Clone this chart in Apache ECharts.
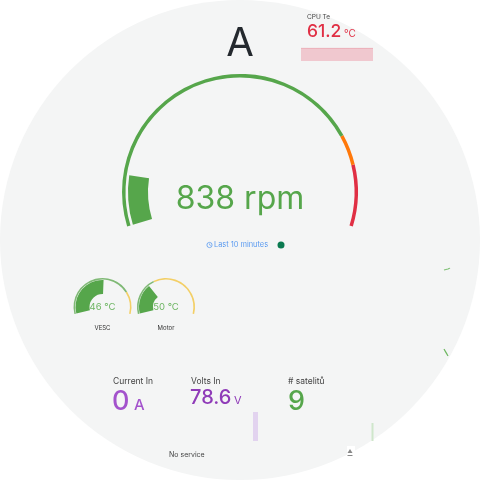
<!DOCTYPE html>
<html>
<head>
<meta charset="utf-8">
<style>
  html, body { margin: 0; padding: 0; background: #fff; }
  #main { width: 480px; height: 480px; }
</style>
<script src="https://cdn.jsdelivr.net/npm/echarts@6/dist/echarts.min.js"></script>
</head>
<body>
<div id="main"></div>
<script>
const GREEN = "#56a64b"
const RED = "#e02f44"
const PURPLE = "#a352cc"

const rpmValue = 838
const rpmMax = 7000
const rpmThresholds = [5500, 6000, 7000]
const rpmThresholdColors = [GREEN, "#ff780a", RED]

const tempNames = ["VESC", "Motor"]
const tempValues = [46, 50]
const tempMax = [90, 160]
const tempThresholds = [70, 60]

const cpuTemp = [61.4, 61.3, 61.2, 61.3, 61.1, 61.2, 61.2, 61.0, 61.1, 61.2, 61.0, 61.1, 61.2]
const voltsIn = [78.6]
const satellites = [9]
const strayUpper = [1, 2, 2, 3]
const strayLower = [3, 2, 1, 0]

const arcStops = (values, max, colors) =>
  values.map((v, i) => [v / max, colors[i]])

const rpmGauge = {
  type: "gauge",
  center: [240, 192],
  startAngle: 197,
  endAngle: -17,
  min: 0,
  max: rpmMax,
  pointer: { show: false },
  axisTick: { show: false },
  splitLine: { show: false },
  axisLabel: { show: false },
}

const smallGauge = (i, cx) => {
  const base = {
    type: "gauge",
    center: [cx, 307],
    startAngle: 194,
    endAngle: -14,
    min: 0,
    max: tempMax[i],
    pointer: { show: false },
    axisTick: { show: false },
    splitLine: { show: false },
    axisLabel: { show: false },
    silent: true,
  }
  return [
    {
      ...base,
      radius: 29,
      axisLine: {
        lineStyle: {
          width: 1.6,
          color: arcStops(
            [tempThresholds[i], tempMax[i]],
            tempMax[i],
            ["#7fb975", "#f3cf66"]
          ),
        },
      },
      title: { show: false },
      detail: { show: false },
      data: [{ value: tempValues[i] }],
    },
    {
      ...base,
      radius: 27,
      axisLine: { show: false },
      progress: { show: true, width: 14, itemStyle: { color: GREEN } },
      title: {
        show: true,
        offsetCenter: [0, 21],
        fontSize: 6,
        color: "#333",
        fontFamily: "Inter",
      },
      detail: {
        show: true,
        offsetCenter: [0, 0],
        formatter: (v) => v + " °C",
        fontSize: 9.5,
        fontWeight: 400,
        color: "#6db562",
        fontFamily: "Inter",
      },
      data: [{ value: tempValues[i], name: tempNames[i] }],
    },
  ]
}

const txt = (x, y, text, fontSize, fill, extra) => ({
  type: "text",
  x,
  y,
  style: { text, fontSize, fill, fontFamily: "Inter", textVerticalAlign: "middle", ...extra },
})

const spark = (left, top, width, height) => ({ left, top, width, height, show: false })

const hiddenCat = (gridIndex, data) => ({
  type: "category",
  gridIndex,
  show: false,
  boundaryGap: false,
  data,
})

const hiddenVal = (gridIndex, min, max) => ({ type: "value", gridIndex, show: false, min, max })

const chart = echarts.init(document.getElementById("main"), null, { renderer: "canvas" })

chart.setOption({
  animation: false,
  backgroundColor: "#fff",
  graphic: [
    { type: "circle", z: -1, shape: { cx: 240, cy: 240, r: 240 }, style: { fill: "#f4f5f5" } },
    txt(240, 44, "A", 40, "#24292e", { textAlign: "center" }),
    txt(307, 17, "CPU Te", 6.5, "#444"),
    txt(307, 32, "61.2", 17.5, RED, { fontWeight: 500 }),
    txt(344, 34, "°C", 10, RED),
    txt(214, 245, "Last 10 minutes", 7.4, "#5b9bf0"),
    { type: "circle", shape: { cx: 209.5, cy: 245, r: 2.6 }, style: { fill: "none", stroke: "#5b9bf0", lineWidth: 0.8 } },
    { type: "polyline", shape: { points: [[209.5, 243.5], [209.5, 245], [211, 245.5]] }, style: { fill: "none", stroke: "#5b9bf0", lineWidth: 0.6 } },
    { type: "circle", shape: { cx: 281, cy: 245, r: 3.5 }, style: { fill: "#0a7a50" } },
    txt(113, 381, "Current In", 8.5, "#444"),
    txt(112, 402, "0", 27, PURPLE, { fontWeight: 500 }),
    txt(134, 405, "A", 15, PURPLE, { fontWeight: 500 }),
    txt(191, 381, "Volts In", 8.5, "#444"),
    txt(190, 398, voltsIn[0].toFixed(1), 20, "#8f3bb8", { fontWeight: 500 }),
    txt(234, 401, "V", 11, "#8f3bb8"),
    txt(288, 381, "# satelitů", 8.5, "#444"),
    txt(288, 402, String(satellites[0]), 27, GREEN, { fontWeight: 500 }),
    txt(169, 455, "No service", 7, "#444"),
    { type: "rect", shape: { x: 347, y: 446, width: 8, height: 12 }, style: { fill: "#fff" } },
    { type: "polygon", shape: { points: [[347.5, 453], [352.5, 453], [350, 449]] }, style: { fill: "#888" } },
    { type: "rect", shape: { x: 347.5, y: 455, width: 5, height: 1 }, style: { fill: "#888" } },
  ],
  grid: [
    spark(301, 48, 72, 13),
    spark(253, 412, 5, 29),
    spark(371.5, 423, 2, 18),
    spark(444, 268, 6, 3),
    spark(444, 349, 4, 7),
  ],
  xAxis: [
    hiddenCat(0, cpuTemp.map((_, i) => i)),
    { type: "category", gridIndex: 1, show: false, data: [0] },
    { type: "category", gridIndex: 2, show: false, data: [0] },
    hiddenCat(3, strayUpper.map((_, i) => i)),
    hiddenCat(4, strayLower.map((_, i) => i)),
  ],
  yAxis: [
    hiddenVal(0, 0, 61.5),
    hiddenVal(1, 0, 78.6),
    hiddenVal(2, 0, 9),
    hiddenVal(3, 0, 3),
    hiddenVal(4, 0, 3),
  ],
  series: [
    {
      type: "line",
      xAxisIndex: 0,
      yAxisIndex: 0,
      data: cpuTemp,
      symbol: "none",
      lineStyle: { width: 0.6, color: "#e58a97" },
      areaStyle: { color: "#f0c8cf", opacity: 1 },
    },
    {
      type: "bar",
      xAxisIndex: 1,
      yAxisIndex: 1,
      data: voltsIn,
      barWidth: 5,
      itemStyle: { color: "#e2d3ef" },
    },
    {
      type: "bar",
      xAxisIndex: 2,
      yAxisIndex: 2,
      data: satellites,
      barWidth: 2,
      itemStyle: { color: "#cfe6cb" },
    },
    {
      type: "line",
      xAxisIndex: 3,
      yAxisIndex: 3,
      data: strayUpper,
      symbol: "none",
      lineStyle: { width: 1.2, color: "#7fc074" },
    },
    {
      type: "line",
      xAxisIndex: 4,
      yAxisIndex: 4,
      data: strayLower,
      symbol: "none",
      lineStyle: { width: 1.2, color: "#6fb862" },
    },
    {
      ...rpmGauge,
      radius: 118,
      axisLine: {
        lineStyle: { width: 3.5, color: arcStops(rpmThresholds, rpmMax, rpmThresholdColors) },
      },
      title: { show: false },
      detail: { show: false },
      data: [{ value: rpmValue }],
    },
    {
      ...rpmGauge,
      radius: 112,
      axisLine: { show: false },
      progress: { show: true, width: 20, itemStyle: { color: GREEN } },
      title: { show: false },
      detail: {
        offsetCenter: [0, 7],
        formatter: (v) => v + " rpm",
        fontSize: 32,
        fontWeight: 400,
        color: GREEN,
        fontFamily: "Inter",
      },
      data: [{ value: rpmValue }],
    },
    ...smallGauge(0, 102.5),
    ...smallGauge(1, 166),
  ],
})
</script>
</body>
</html>
